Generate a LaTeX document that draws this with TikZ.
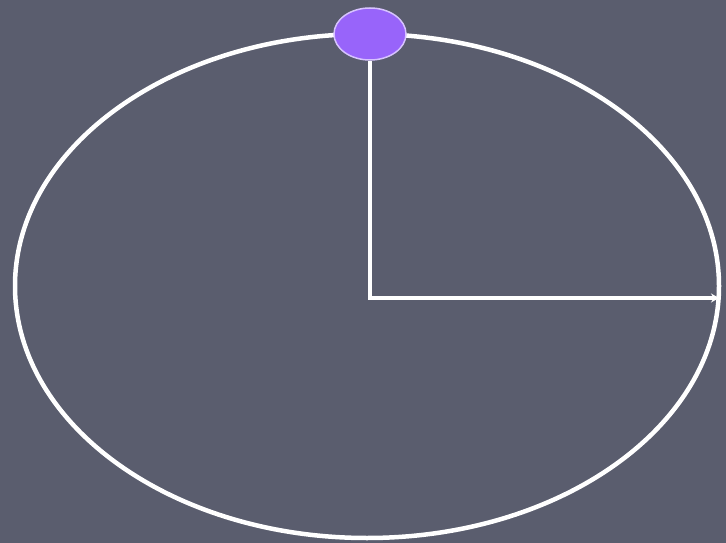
\documentclass[tikz,border=0pt]{standalone}
\usetikzlibrary{shapes.geometric,arrows.meta}
\definecolor{slate}{RGB}{90,93,110}
\definecolor{ballpurple}{RGB}{152,100,250}
\definecolor{lavender}{RGB}{215,195,255}
\begin{document}
\begin{tikzpicture}[x=1pt, y=-1pt, line width=4.5pt]
            \fill[slate] (0,0) rectangle (726,543);
            \draw[white] (367,286) ellipse (352 and 252);
            \coordinate (c) at (370,298);
            \coordinate (r) at (719,298);
            \node[ellipse, draw=lavender, line width=1.5pt, fill=ballpurple, minimum width=72pt, minimum height=52pt] (ball) at (370,34) {};
            \draw[white, line width=3.5pt, -{Stealth[length=8pt,width=9pt]}] (ball) -- (c) -- (r);
        \end{tikzpicture}
\end{document}
